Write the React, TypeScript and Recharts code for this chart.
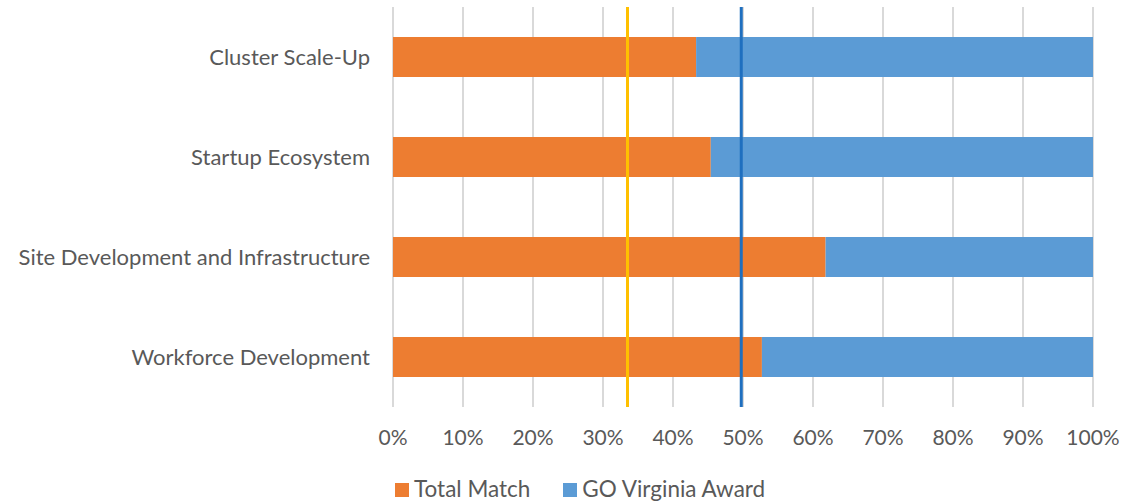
import React from 'react';
import { BarChart, Bar, XAxis, YAxis, CartesianGrid, Legend, ReferenceLine } from 'recharts';

const categories = ['Cluster Scale-Up', 'Startup Ecosystem', 'Site Development and Infrastructure', 'Workforce Development'];
const totalMatch = [43.3, 45.4, 61.8, 52.7];
const goVirginiaAward = [56.7, 54.6, 38.2, 47.3];
const xTicks = [0, 10, 20, 30, 40, 50, 60, 70, 80, 90, 100];
const seriesNames = ['Total Match', 'GO Virginia Award'];
const refOneThird = 33.5;
const refHalf = 49.75;

const data = categories.map((name, i) => ({ name, total: totalMatch[i], award: goVirginiaAward[i] }));

const FONT = 'Lato, "Open Sans", sans-serif';
const TEXT = '#595959';
const ORANGE = '#ED7D31';
const BLUE = '#5B9BD5';

const renderLegend = (props: any) => {
  const payload = [...(props.payload || [])].sort(
    (a: any, b: any) => seriesNames.indexOf(a.value) - seriesNames.indexOf(b.value)
  );
  return (
    <div style={{ display: 'flex', justifyContent: 'flex-start', alignItems: 'flex-end', height: 40, paddingLeft: 395, paddingBottom: 1.5, boxSizing: 'border-box', fontFamily: FONT, fontSize: 22.5, lineHeight: '22px', color: TEXT }}>
      {payload.map((p: any, i: number) => (
        <div key={p.value} style={{ display: 'flex', alignItems: 'flex-end', marginRight: i === 0 ? 33 : 0 }}>
          <span style={{ display: 'inline-block', width: 14, height: 14, background: p.color, marginRight: 5, marginBottom: 2.5 }} />
          <span style={{ whiteSpace: 'nowrap' }}>{p.value}</span>
        </div>
      ))}
    </div>
  );
};

export default function App() {
  return (
    <div style={{ position: 'absolute', left: 0, top: 0, background: '#fff' }}>
      <BarChart
        width={1124}
        height={501}
        data={data}
        layout="vertical"
        margin={{ top: 7, right: 31, left: 0, bottom: 0 }}
        barSize={40}
      >
        <CartesianGrid horizontal={false} vertical={true} stroke="#D9D9D9" strokeWidth={2} />
        <XAxis
          type="number"
          domain={[0, 100]}
          ticks={xTicks}
          tickFormatter={(v: number) => `${v}%`}
          axisLine={false}
          tickLine={false}
          tickMargin={17}
          height={54}
          tick={{ fill: TEXT, fontSize: 21, fontFamily: FONT }}
          interval={0}
        />
        <YAxis
          type="category"
          dataKey="name"
          width={393}
          axisLine={false}
          tickLine={false}
          tickMargin={17}
          tick={{ fill: TEXT, fontSize: 22, fontFamily: FONT }}
        />
        <Bar dataKey="total" name={seriesNames[0]} stackId="a" fill={ORANGE} isAnimationActive={false} />
        <Bar dataKey="award" name={seriesNames[1]} stackId="a" fill={BLUE} isAnimationActive={false} />
        <ReferenceLine x={refOneThird} stroke="#FFC000" strokeWidth={3} ifOverflow="visible" />
        <ReferenceLine x={refHalf} stroke="#1F6FBF" strokeWidth={3} ifOverflow="visible" />
        <Legend verticalAlign="bottom" height={40} content={renderLegend} wrapperStyle={{ left: 0, width: 1124 }} />
      </BarChart>
    </div>
  );
}
